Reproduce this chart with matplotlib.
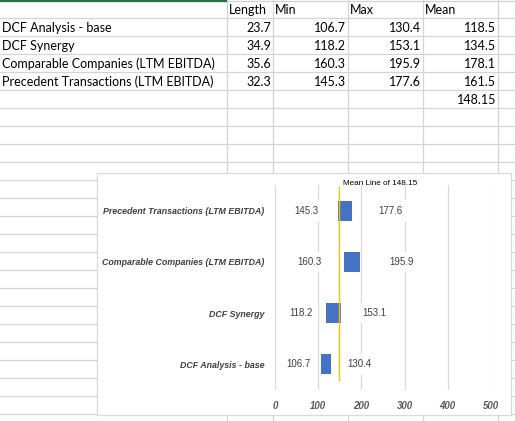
import matplotlib
matplotlib.use("Agg")
import matplotlib.pyplot as plt
from matplotlib.patches import Rectangle
import numpy as np

# ---- data ----
categories = ["DCF Analysis - base", "DCF Synergy",
              "Comparable Companies (LTM EBITDA)", "Precedent Transactions (LTM EBITDA)"]
lengths = [23.7, 34.9, 35.6, 32.3]
mins = [106.7, 118.2, 160.3, 145.3]
maxs = [130.4, 153.1, 195.9, 177.6]
means = [118.5, 134.5, 178.1, 161.5]
overall_mean = 148.15
headers = ["Length", "Min", "Max", "Mean"]
xticks = [0, 100, 200, 300, 400, 500]

W, H = 515, 421
fig = plt.figure(figsize=(W / 100, H / 100), dpi=100)
bg = fig.add_axes([0, 0, 1, 1])
bg.set_xlim(0, W)
bg.set_ylim(H, 0)
bg.axis("off")

grid_c = "#d4d4d4"
tfont = "Lato"
tsize = 9.0
txt_c = "#000000"

# spreadsheet grid
col_x = [227, 273, 348, 423, 498]
row_step = 18
for k in range(1, 24):
    y = k * row_step
    bg.plot([0, W], [y, y], color=grid_c, lw=0.9, zorder=1)
for x in col_x:
    bg.plot([x, x], [0, H], color=grid_c, lw=0.9, zorder=1)
bg.plot([0, W], [0.6, 0.6], color=grid_c, lw=1.0, zorder=1)
bg.plot([0, 227], [0.8, 0.8], color="#217346", lw=1.6, zorder=2, solid_capstyle="butt")

# table text
hdr_x = [229, 275, 350, 425]
for hx, h in zip(hdr_x, headers):
    bg.text(hx, 9.5, h, family=tfont, fontsize=tsize, ha="left", va="center", color=txt_c)
right_x = [271, 346, 421, 496]
for i, cat in enumerate(categories):
    yc = (i + 1) * row_step + 9.5
    bg.text(2, yc, cat, family=tfont, fontsize=tsize, ha="left", va="center", color=txt_c)
    for rx, v in zip(right_x, [lengths[i], mins[i], maxs[i], means[i]]):
        bg.text(rx, yc, f"{v:.1f}", family=tfont, fontsize=tsize, ha="right", va="center", color=txt_c)
bg.text(right_x[3], 5 * row_step + 9.5, f"{overall_mean:.2f}", family=tfont, fontsize=tsize,
        ha="right", va="center", color=txt_c)

# chart box
bg.add_patch(Rectangle((97, 173), 511 - 97, 415 - 173, facecolor="white",
                       edgecolor="#d9d9d9", lw=0.9, zorder=5))

# chart axes
x0, x1 = 275.3, 490.7
y0, y1 = 185, 390
ax = fig.add_axes([x0 / W, 1 - y1 / H, (x1 - x0) / W, (y1 - y0) / H])
ax.set_zorder(10)
ax.patch.set_visible(False)
ax.set_xlim(0, 500)
ax.set_ylim(-0.5, len(categories) - 0.5)
ypos = np.arange(len(categories))
ax.barh(ypos, lengths, left=mins, height=0.39, color="#4472c4", zorder=3)
ax.set_xticks(xticks)
ax.set_xticklabels([str(t) for t in xticks], family="Liberation Sans", fontsize=7.0,
                   fontweight="bold", style="italic", color="#595959")
ax.tick_params(axis="x", length=0, pad=8)
ax.set_yticks(ypos)
ax.set_yticklabels(categories, family="Liberation Sans", fontsize=6.4,
                   fontweight="bold", style="italic", color="#404040")
ax.tick_params(axis="y", length=0, pad=8)
ax.grid(axis="x", color="#d9d9d9", lw=0.9, zorder=0)
ax.set_axisbelow(True)
for s in ax.spines.values():
    s.set_visible(False)

# data labels (Excel places them at the centre of the hidden stacked segments)
box = dict(boxstyle="square,pad=0.55", facecolor="white", edgecolor="none")
for i in range(len(categories)):
    ax.text(mins[i] / 2, ypos[i], f"{mins[i]:.1f}", family="Liberation Sans", fontsize=7.0,
            ha="center", va="center", color="#404040", bbox=box, zorder=2)
    ax.text(maxs[i] * 1.5, ypos[i], f"{maxs[i]:.1f}", family="Liberation Sans", fontsize=7.0,
            ha="center", va="center", color="#404040", bbox=box, zorder=2)

ax.axvline(overall_mean, ymin=0.05, ymax=0.99, color="#ffc000", lw=1.0, zorder=4)
ax.text(overall_mean + 8, 3.53, f"Mean Line of {overall_mean}", family="Liberation Sans",
        fontsize=5.9, ha="left", va="center", color="#000000", zorder=5)

fig.savefig("out.png", dpi=100)
